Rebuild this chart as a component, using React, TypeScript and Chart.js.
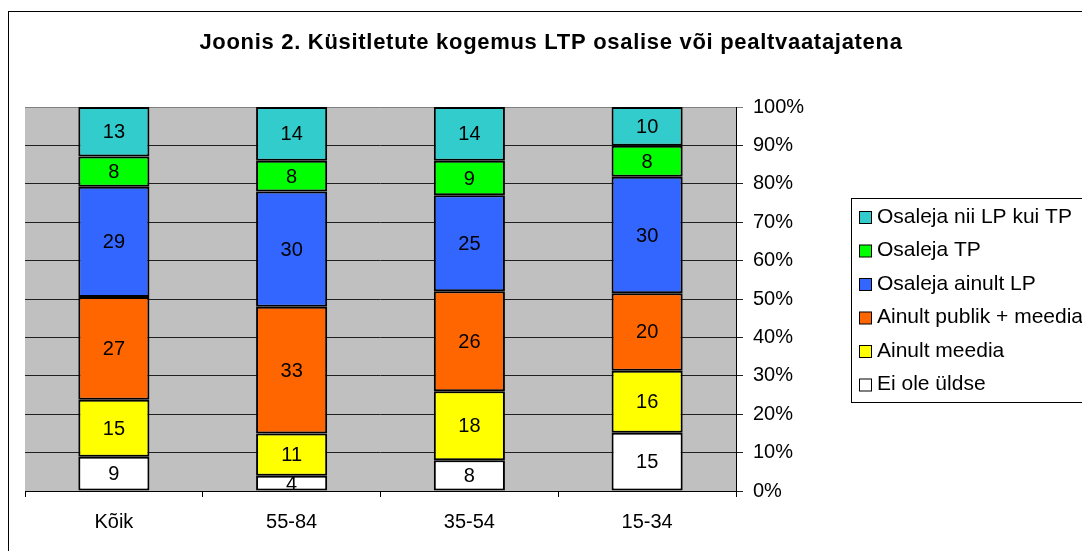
import React, { useEffect, useRef } from "react";
import { Chart, registerables } from "chart.js";

Chart.register(...registerables);

const categories = ["Kõik", "55-84", "35-54", "15-34"];
const eiOle = [9, 4, 8, 15];
const ainultMeedia = [15, 11, 18, 16];
const publikMeedia = [27, 33, 26, 20];
const ainultLP = [29, 30, 25, 30];
const osalejaTP = [8, 8, 9, 8];
const niiLPkuiTP = [13, 14, 14, 10];
const yTicks = [0, 10, 20, 30, 40, 50, 60, 70, 80, 90, 100];
const titleText = "Joonis 2. Küsitletute kogemus LTP osalise või pealtvaatajatena";

const seriesDefs = [
  { label: "Ei ole üldse", values: eiOle, color: "#FFFFFF" },
  { label: "Ainult meedia", values: ainultMeedia, color: "#FFFF00" },
  { label: "Ainult publik + meedia", values: publikMeedia, color: "#FF6600" },
  { label: "Osaleja ainult LP", values: ainultLP, color: "#3366FF" },
  { label: "Osaleja TP", values: osalejaTP, color: "#00FF00" },
  { label: "Osaleja nii LP kui TP", values: niiLPkuiTP, color: "#33CCCC" },
];

const FONT = "'Liberation Sans', Arial, sans-serif";
const W = 1100;
const H = 560;

export default function App() {
  const ref = useRef<HTMLCanvasElement | null>(null);

  useEffect(() => {
    if (!ref.current) return;
    const totals = categories.map((_, i) =>
      seriesDefs.reduce((s, d) => s + d.values[i], 0)
    );

    const decor = {
      id: "decor",
      beforeDraw(chart: any) {
        const ctx = chart.ctx;
        const a = chart.chartArea;
        ctx.save();
        ctx.fillStyle = "#FFFFFF";
        ctx.fillRect(0, 0, chart.width, chart.height);
        ctx.strokeStyle = "#000000";
        ctx.lineWidth = 1;
        ctx.strokeRect(8.5, 11.5, chart.width - 10, chart.height - 5);
        ctx.fillStyle = "#C0C0C0";
        ctx.fillRect(a.left, a.top, a.right - a.left, a.bottom - a.top);
        ctx.fillStyle = "#000000";
        ctx.font = "bold 22px " + FONT;
        ctx.textAlign = "center";
        ctx.textBaseline = "middle";
        try {
          (ctx as any).letterSpacing = "0.7px";
        } catch (e) {}
        ctx.fillText(titleText, 551, 43);
        try {
          (ctx as any).letterSpacing = "0px";
        } catch (e) {}
        ctx.restore();
      },
      afterDatasetsDraw(chart: any) {
        const ctx = chart.ctx;
        ctx.save();
        ctx.fillStyle = "#000000";
        ctx.font = "20px " + FONT;
        ctx.textAlign = "center";
        ctx.textBaseline = "middle";
        chart.data.datasets.forEach((ds: any, di: number) => {
          const meta = chart.getDatasetMeta(di);
          meta.data.forEach((el: any, i: number) => {
            const y = (el.y + el.base) / 2;
            ctx.fillText(String(ds.raw[i]), el.x, y + 1);
          });
        });
        // legend
        const lx = 851;
        const ly = 198;
        ctx.strokeStyle = "#000000";
        ctx.lineWidth = 1;
        ctx.fillStyle = "#FFFFFF";
        ctx.fillRect(lx + 0.5, ly + 0.5, 300, 204);
        ctx.strokeRect(lx + 0.5, ly + 0.5, 300, 204);
        ctx.textAlign = "left";
        ctx.font = "21px " + FONT;
        const items = [...seriesDefs].reverse();
        items.forEach((d, k) => {
          const cy = 217 + k * 33.5;
          ctx.fillStyle = d.color;
          ctx.fillRect(859.5, cy - 5.5, 12, 12);
          ctx.strokeStyle = "#000000";
          ctx.strokeRect(859.5, cy - 5.5, 12, 12);
          ctx.fillStyle = "#000000";
          ctx.fillText(d.label, 877, cy);
        });
        ctx.restore();
      },
    };

    const chart = new Chart(ref.current, {
      type: "bar",
      data: {
        labels: categories,
        datasets: seriesDefs.map((d) => ({
          label: d.label,
          data: d.values.map((v, i) => (v / totals[i]) * 100),
          raw: d.values,
          backgroundColor: d.color,
          borderColor: "#000000",
          borderWidth: 2,
          borderSkipped: false,
          barPercentage: 0.4,
          categoryPercentage: 1,
        })) as any,
      },
      options: {
        responsive: false,
        animation: false,
        devicePixelRatio: 1,
        layout: { padding: { left: 25, top: 107, right: 264, bottom: 24 } },
        plugins: {
          legend: { display: false },
          title: { display: false },
          tooltip: { enabled: false },
        },
        scales: {
          x: {
            stacked: true,
            afterFit(scale: any) {
              scale.height = 45;
            },
            grid: {
              offset: true,
              drawOnChartArea: false,
              drawTicks: true,
              tickLength: 6,
              color: "#000000",
            },
            border: { display: true, color: "#000000", width: 1 },
            ticks: {
              color: "#000000",
              font: { family: FONT, size: 20 },
              padding: 13,
            },
          },
          y: {
            stacked: true,
            position: "right",
            min: 0,
            max: 100,
            afterFit(scale: any) {
              scale.width = 100;
            },
            afterBuildTicks(scale: any) {
              scale.ticks = yTicks.map((v) => ({ value: v }));
            },
            grid: {
              color: (c: any) => (c.tick && c.tick.value === 100 ? "#808080" : "#202020"),
              lineWidth: 1,
              tickLength: 7,
              drawTicks: true,
            },
            border: { display: true, color: "#000000", width: 1 },
            ticks: {
              color: "#000000",
              font: { family: FONT, size: 20 },
              padding: 10,
              callback: (v: any) => v + "%",
            },
          },
        },
      } as any,
      plugins: [decor],
    });
    return () => chart.destroy();
  }, []);

  return (
    <div style={{ position: "absolute", left: 0, top: 0, width: W, height: H }}>
      <canvas ref={ref} width={W} height={H} style={{ width: W, height: H, display: "block" }} />
    </div>
  );
}
